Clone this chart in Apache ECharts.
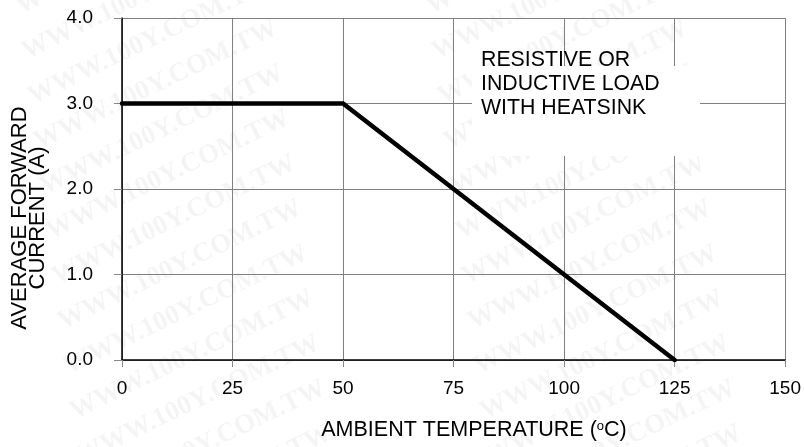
<!DOCTYPE html>
<html>
<head>
<meta charset="utf-8">
<script src="https://cdn.jsdelivr.net/npm/echarts@6/dist/echarts.min.js"></script>
<style>html,body{margin:0;padding:0;background:#fff}#c{width:804px;height:447px}</style>
</head>
<body>
<div id="c"></div>
<script>
// Data
const curveTemp = [0, 50, 125];
const curveCurrent = [3.0, 3.0, 0.0];
const xTicks = [0, 25, 50, 75, 100, 125, 150];
const yTicks = ['0.0', '1.0', '2.0', '3.0', '4.0'];
const xAxisTitle = 'AMBIENT TEMPERATURE (';
const yAxisTitle = ['AVERAGE FORWARD', 'CURRENT (A)'];
const noteLines = ['RESISTIVE OR', 'INDUCTIVE LOAD', 'WITH HEATSINK'];
const watermark = 'WWW.100Y.COM.TW';

const chart = echarts.init(document.getElementById('c'), null, {renderer: 'canvas'});
const fam = 'Liberation Sans, Arial, sans-serif';

// watermark tiling (decoration)
const wm = [];
for (let r = -3; r < 12; r++) {
  for (let c = 0; c < 3; c++) {
    wm.push({
      type: 'text', z: -10, silent: true,
      x: 150 + c * 410 + r * 6, y: r * 45 + 40,
      rotation: 0.45,
      style: {text: watermark, fontSize: 27, fontWeight: 'bold', fontFamily: 'Liberation Serif, serif',
        fill: 'rgba(0,0,0,0.045)', align: 'center', verticalAlign: 'middle'}
    });
  }
}

const option = {
  animation: false,
  grid: {left: 122, right: 16, top: 18, bottom: 87, containLabel: false},
  xAxis: {
    type: 'value', min: 0, max: 150, interval: 25,
    axisLine: {show: true, onZero: false, lineStyle: {color: '#000', width: 1.5}},
    axisTick: {show: true, length: 7, lineStyle: {color: '#888'}},
    axisLabel: {color: '#000', fontSize: 19, fontFamily: fam, margin: 19,
      formatter: v => String(xTicks[xTicks.indexOf(v)])},
    splitLine: {show: true, lineStyle: {color: '#808080', width: 1}}
  },
  yAxis: {
    type: 'value', min: 0, max: 4, interval: 1,
    axisLine: {show: true, lineStyle: {color: '#000', width: 1.5}},
    axisTick: {show: true, length: 8, lineStyle: {color: '#888'}},
    axisLabel: {color: '#000', fontSize: 19, fontFamily: fam, margin: 29,
      formatter: v => yTicks[Math.round(v)]},
    splitLine: {show: true, lineStyle: {color: '#808080', width: 1}}
  },
  series: [{
    type: 'line', data: curveTemp.map((t, i) => [t, curveCurrent[i]]),
    symbol: 'none', z: 5,
    lineStyle: {color: '#000', width: 4.5, cap: 'round', join: 'miter'}
  }],
  graphic: wm.concat([
    {type: 'rect', z: 100, shape: {x: 472, y: 66, width: 228, height: 90}, style: {fill: '#fff'}},
    {type: 'text', z: 101, x: 481, y: 84, style: {text: noteLines.join('\n'), fontSize: 21.3, fontFamily: fam, fill: '#000', lineHeight: 24, verticalAlign: 'middle'}},
    {type: 'text', z: 101, x: 474, y: 430, style: {
      text: xAxisTitle + '{sup|o}C)', fontSize: 21.5, fontFamily: fam, fill: '#000', align: 'center', verticalAlign: 'middle',
      rich: {sup: {fontSize: 13, fontFamily: fam, fill: '#000', padding: [0, 0, 8, 0]}}
    }},
    {type: 'text', z: 101, x: 29, y: 218, rotation: Math.PI / 2, style: {
      text: yAxisTitle.join('\n'), fontSize: 22, fontFamily: fam, fill: '#000', align: 'center', verticalAlign: 'middle', lineHeight: 18
    }}
  ])
};
chart.setOption(option);
</script>
</body>
</html>
